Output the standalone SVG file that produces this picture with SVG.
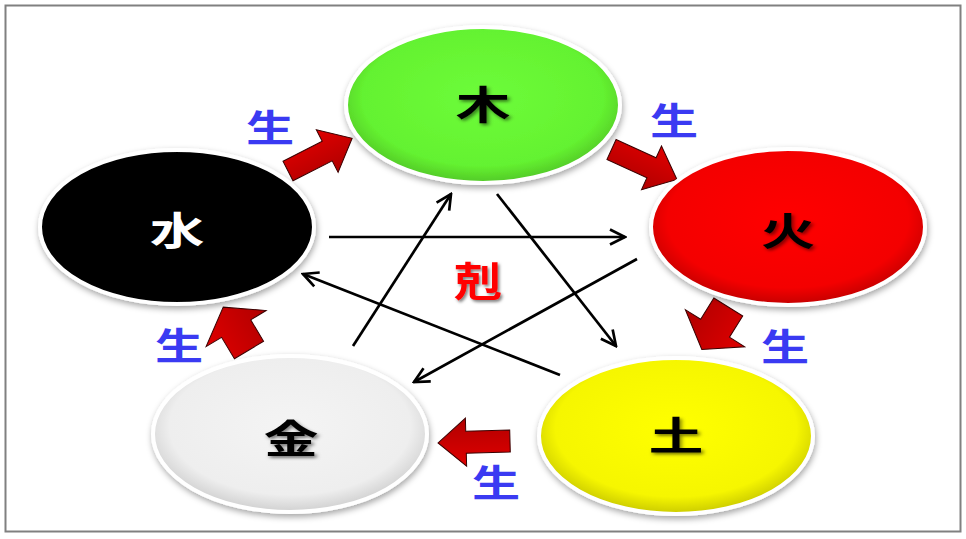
<svg xmlns="http://www.w3.org/2000/svg" width="966" height="539" viewBox="0 0 966 539">
<defs>
<style>
.frame{fill:#fff;stroke:#808080;stroke-width:2}
.node{stroke:#fff;stroke-width:4;filter:url(#shadow)}
.lbl{font-family:"Noto Sans CJK JP","Noto Sans CJK SC",sans-serif;font-weight:bold;text-anchor:middle;dominant-baseline:central}
.big{font-size:39px;filter:url(#tshadow)}
.sheng{font-size:37px;fill:#3a3af2}
.k{stroke:#000;stroke-width:2.7;fill:none;marker-end:url(#head)}
.red{fill:url(#rg);stroke:#3a0000;stroke-width:1;stroke-linejoin:miter}
</style>
<filter id="shadow" x="-20%" y="-20%" width="140%" height="150%">
<feDropShadow dx="1" dy="3" stdDeviation="3" flood-color="#000" flood-opacity="0.35"/>
</filter>
<filter id="tshadow" x="-30%" y="-30%" width="160%" height="160%">
<feDropShadow dx="1.5" dy="2" stdDeviation="1.5" flood-color="#000" flood-opacity="0.5"/>
</filter>
<radialGradient id="gGreen" cx="50%" cy="45%" r="55%">
<stop offset="0" stop-color="#6dfc3a"/><stop offset="0.8" stop-color="#64f230"/><stop offset="1" stop-color="#52c828"/>
</radialGradient>
<radialGradient id="gRed" cx="50%" cy="45%" r="55%">
<stop offset="0" stop-color="#ff0000"/><stop offset="0.8" stop-color="#f40000"/><stop offset="1" stop-color="#c40000"/>
</radialGradient>
<radialGradient id="gYellow" cx="50%" cy="45%" r="55%">
<stop offset="0" stop-color="#ffff00"/><stop offset="0.8" stop-color="#f6f600"/><stop offset="1" stop-color="#caca00"/>
</radialGradient>
<radialGradient id="gWhite" cx="50%" cy="45%" r="55%">
<stop offset="0" stop-color="#f4f4f4"/><stop offset="0.8" stop-color="#eeeeee"/><stop offset="1" stop-color="#d0d0d0"/>
</radialGradient>
<linearGradient id="rg" x1="0" y1="0" x2="0" y2="1">
<stop offset="0" stop-color="#e00000"/><stop offset="1" stop-color="#b00000"/>
</linearGradient>
<marker id="head" viewBox="0 0 18 18" refX="16" refY="9" markerWidth="18" markerHeight="18" orient="auto" markerUnits="userSpaceOnUse">
<path d="M1,1.5 L16,9 L1,16.5" fill="none" stroke="#000" stroke-width="2.7"/>
</marker>
<polygon id="arrowA" points="0,-11 44,-11 44,-24 72,0 44,24 44,11 0,11"/>
<polygon id="arrowB" points="0,-17 25,-17 25,-35 50,0 25,35 25,17 0,17"/>
</defs>

<rect class="frame" x="5.5" y="5.5" width="955" height="526"/>

<g id="connectors">
<line class="k" x1="329" y1="237" x2="625" y2="237"/>
<line class="k" x1="353" y1="346" x2="451" y2="194"/>
<line class="k" x1="497" y1="194" x2="616" y2="346"/>
<line class="k" x1="637" y1="259" x2="414" y2="382"/>
<line class="k" x1="560" y1="375" x2="303" y2="274"/>
<use href="#arrowA" class="red" transform="translate(288,171) rotate(-27)"/>
<use href="#arrowA" class="red" transform="translate(611.5,149.5) rotate(24.6)"/>
<use href="#arrowB" class="red" transform="translate(728.3,307) rotate(122)"/>
<use href="#arrowA" class="red" transform="translate(510,441) rotate(178.5)"/>
<use href="#arrowB" class="red" transform="translate(249,350) rotate(-121)"/>
</g>

<g id="wood">
<ellipse class="node" cx="483" cy="105" rx="137" ry="78" fill="url(#gGreen)"/>
<text class="lbl big" fill="#000" transform="translate(483,102) scale(1.4,1)">木</text>
</g>
<g id="fire">
<ellipse class="node" cx="788" cy="227" rx="137" ry="78" fill="url(#gRed)"/>
<text class="lbl big" fill="#000" transform="translate(788,228) scale(1.4,1)">火</text>
</g>
<g id="earth">
<ellipse class="node" cx="676" cy="436" rx="137" ry="78" fill="url(#gYellow)"/>
<text class="lbl big" fill="#000" transform="translate(676,433) scale(1.4,1)">土</text>
</g>
<g id="metal">
<ellipse class="node" cx="290" cy="434" rx="137" ry="78" fill="url(#gWhite)"/>
<text class="lbl big" fill="#000" transform="translate(291,436) scale(1.4,1)">金</text>
</g>
<g id="water">
<ellipse class="node" cx="177" cy="227" rx="137" ry="77" fill="#000"/>
<text class="lbl big" fill="#fff" style="filter:none" transform="translate(177,228) scale(1.4,1)">水</text>
</g>

<g id="labels">
<text class="lbl sheng" transform="translate(270,126) scale(1.3,1)">生</text>
<text class="lbl sheng" transform="translate(674,119) scale(1.3,1)">生</text>
<text class="lbl sheng" transform="translate(785,345) scale(1.3,1)">生</text>
<text class="lbl sheng" transform="translate(496,481) scale(1.3,1)">生</text>
<text class="lbl sheng" transform="translate(179,344) scale(1.3,1)">生</text>
<text class="lbl big" fill="#ff0000" transform="translate(478,279) scale(1.2,1)" style="font-size:40px">剋</text>
</g>
</svg>
